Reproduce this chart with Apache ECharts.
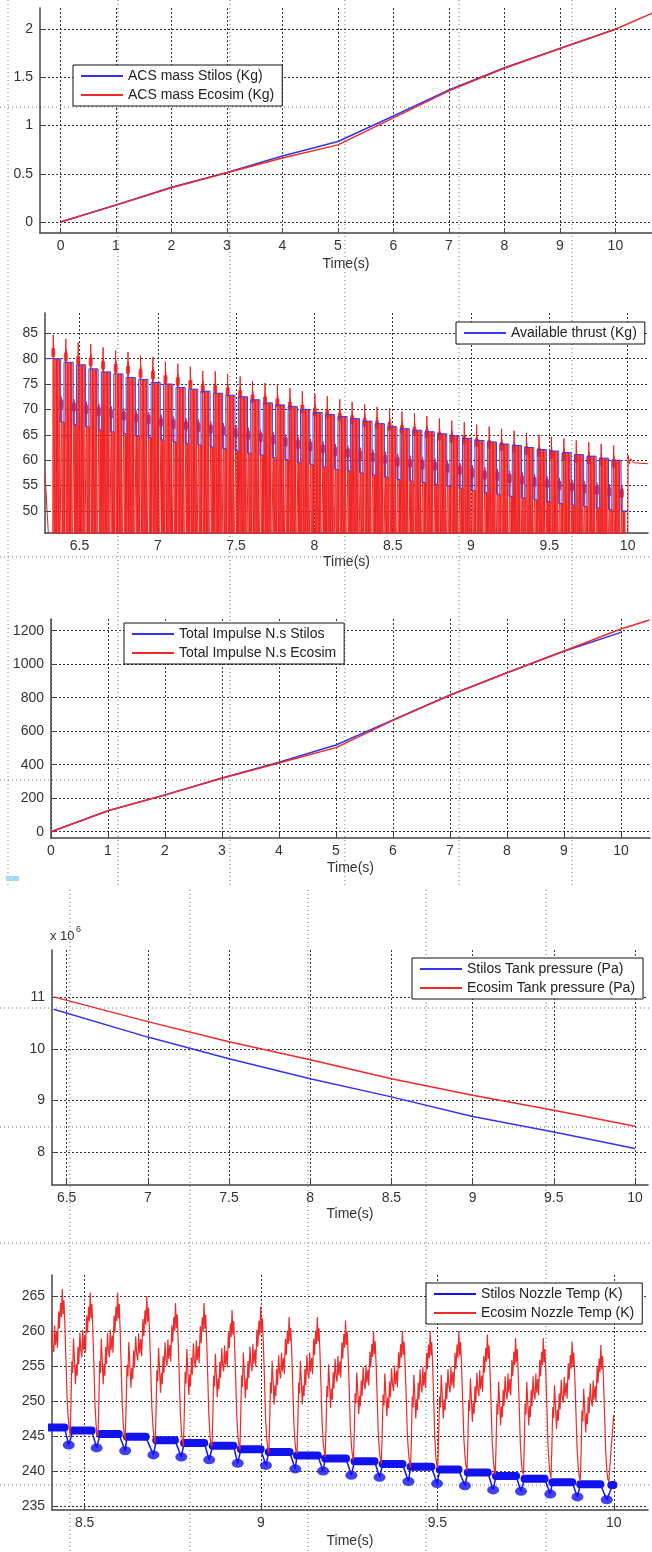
<!DOCTYPE html>
<html><head><meta charset="utf-8">
<script src="https://cdn.jsdelivr.net/npm/echarts@6/dist/echarts.min.js"></script>
<style>html,body{margin:0;padding:0;background:#fff}#c{width:652px;height:1552px}</style>
</head><body><div id="c"></div>
<script>
// ---------- Panel 1 : ACS mass ----------
const massTimeStilos = [0,1,2,3,4,5,6,7,8,9,10];
const massStilos     = [0,0.177,0.36,0.515,0.685,0.835,1.10,1.37,1.60,1.80,2.00];
const massTimeEcosim = [0,1,2,3,4,5,6,7,8,9,10,10.68];
const massEcosim     = [0,0.175,0.355,0.51,0.665,0.80,1.08,1.36,1.595,1.80,2.00,2.17];
const massXTicks = [0,1,2,3,4,5,6,7,8,9,10];
const massYTicks = [0,0.5,1,1.5,2];

// ---------- Panel 2 : Available thrust ----------
const thrustCycleTime = [6.333,6.413,6.492,6.572,6.651,6.731,6.810,6.890,6.969,7.049,7.128,7.208,7.287,7.367,7.446,7.526,7.605,7.685,7.764,7.844,7.923,8.003,8.082,8.162,8.241,8.321,8.400,8.480,8.559,8.639,8.718,8.798,8.877,8.957,9.036,9.116,9.195,9.275,9.354,9.434,9.513,9.593,9.672,9.752,9.831,9.911];
const thrustEcosimSpike = [84.7,83.9,83.2,82.9,82.2,81.6,81.3,80.6,80.3,79.4,79.0,78.4,77.6,77.5,77.0,76.5,75.6,75.2,74.8,74.2,73.6,73.0,72.6,72.0,71.5,71.0,70.5,70.2,69.6,69.2,68.7,68.2,67.8,67.5,67.0,66.6,66.2,65.8,65.4,65.0,64.6,64.3,63.9,63.6,63.2,62.9];
const thrustEcosimMid = [71.0,70.5,70.0,69.6,69.1,68.7,68.3,68.0,67.5,67.1,66.8,66.5,66.1,65.8,65.4,64.9,64.5,64.0,63.6,63.1,62.7,62.2,61.7,61.4,61.0,60.6,60.2,59.7,59.4,59.1,58.8,58.4,58.0,57.5,57.1,56.8,56.4,56.1,55.7,55.4,55.0,54.7,54.4,54.1,53.8,53.5];
const thrustStilosHigh = [80.0,79.3,78.8,78.0,77.4,77.0,76.3,75.9,75.3,75.0,74.3,74.0,73.6,73.2,72.8,72.5,71.9,71.3,70.9,70.6,70.0,69.4,69.0,68.6,68.2,67.7,67.2,66.6,66.2,65.9,65.6,65.2,64.8,64.3,63.9,63.6,63.2,62.9,62.5,62.1,61.8,61.5,61.1,60.8,60.4,60.0];
const thrustStilosLow = [67.5,67.0,66.6,66.0,65.6,65.2,64.8,64.5,64.0,63.6,63.3,63.0,62.6,62.3,61.9,61.4,61.0,60.5,60.1,59.6,59.2,58.7,58.2,57.9,57.5,57.1,56.7,56.2,55.9,55.6,55.3,54.9,54.5,54.0,53.6,53.3,52.9,52.6,52.2,51.9,51.5,51.2,50.9,50.6,50.3,50.0];
const thrustEcosimLead = [[6.28,57.5]];
const thrustEcosimTail = [[10.0,30],[10.003,61.0],[10.01,59.2],[10.02,60.3],[10.035,59.5],[10.13,59.3]];
const thrustStilosLead = [[6.28,80.0]];
const thrustStilosTail = [[10.0,50.0]];
const thrustXTicks = [6.5,7,7.5,8,8.5,9,9.5,10];
const thrustYTicks = [50,55,60,65,70,75,80,85];

// ---------- Panel 3 : Total impulse ----------
const impTimeStilos = [0,1,2,3,4,5,6,7,8,9,10];
const impStilos     = [0,125,220,321,415,518,668,816,949,1077,1190];
const impTimeEcosim = [0,1,2,3,4,5,6,7,8,9,10,10.5];
const impEcosim     = [0,125,219,319,410,502,665,815,949,1079,1210,1264];
const impXTicks = [0,1,2,3,4,5,6,7,8,9,10];
const impYTicks = [0,200,400,600,800,1000,1200];

// ---------- Panel 4 : Tank pressure (x 10^6 Pa) ----------
const presTime   = [6.42,7,7.5,8,8.5,9,9.5,10];
const presStilos = [10.77,10.23,9.81,9.42,9.07,8.69,8.39,8.07];
const presEcosim = [11.01,10.53,10.14,9.79,9.42,9.10,8.81,8.50];
const presXTicks = [6.5,7,7.5,8,8.5,9,9.5,10];
const presYTicks = [8,9,10,11];

// ---------- Panel 5 : Nozzle temperature ----------
const nozzleCycleStart = [8.379,8.459,8.538,8.615,8.700,8.780,8.861,8.940,9.022,9.102,9.182,9.262,9.341,9.424,9.501,9.584,9.664,9.744,9.822,9.905,9.986];
const nozzleEcosimTrough = [246,245,245,244.5,244,243.5,243.5,243,242.5,242.5,242,241.5,241,240.5,240.5,240,239.5,239.5,239,238.5,238.5];
const nozzleEcosimPeak = [266,265.5,265.5,265,264,264,263,263.5,262,262,261.5,260,260,260,260,259.5,259,259,258.5,258];
const nozzleCycleShape = [[0,0],[0.03,0.22],[0.06,0.52],[0.09,0.44],[0.12,0.68],[0.15,0.55],[0.19,0.36],[0.22,0.50],[0.25,0.42],[0.28,0.62],[0.31,0.50],[0.35,0.72],[0.38,0.60],[0.42,0.55],[0.45,0.74],[0.48,0.60],[0.52,0.70],[0.55,0.58],[0.59,0.84],[0.62,0.72],[0.66,0.90],[0.69,0.80],[0.72,1.00],[0.75,0.82],[0.78,0.92],[0.81,0.76],[0.85,0.50],[0.89,0.22],[0.93,0.08],[0.96,0.02]];
const nozzleEcosimTail = [[9.993,243.5],[10.0,248]];
const nozzleStilosPlateauStart = [8.400,8.467,8.544,8.620,8.703,8.782,8.863,8.943,9.022,9.102,9.182,9.265,9.345,9.424,9.507,9.586,9.666,9.747,9.826,9.905];
const nozzleStilosPlateauEnd   = [8.443,8.520,8.597,8.673,8.756,8.839,8.922,8.999,9.081,9.161,9.241,9.322,9.401,9.483,9.560,9.643,9.723,9.804,9.882,9.962];
const nozzleStilosPlateau = [246.2,245.8,245.3,244.9,244.4,244.0,243.6,243.1,242.7,242.2,241.8,241.4,241.0,240.6,240.2,239.8,239.3,238.9,238.4,238.1];
const nozzleStilosDipTime = [8.455,8.534,8.615,8.695,8.774,8.853,8.934,9.014,9.097,9.176,9.256,9.336,9.418,9.499,9.578,9.658,9.737,9.820,9.897,9.980];
const nozzleStilosDip = [243.7,243.3,242.9,242.3,242.0,241.6,241.1,240.8,240.3,240.0,239.4,239.1,238.5,238.2,237.9,237.3,237.1,236.7,236.3,235.9];
const nozzleStilosEnd = [[9.997,238.0]];
const nozzleXTicks = [8.5,9,9.5,10];
const nozzleYTicks = [235,240,245,250,255,260,265];

// ================= build =================
const F = 'Liberation Sans, Arial, sans-serif';
const BLUE = '#3434ee', RED = '#ee2a2a';
const zip = (a,b) => a.map((v,i)=>[v,b[i]]);

// thrust waveforms
const COMB_FLOOR = 30;
const thrustRed = thrustEcosimLead.slice();
const thrustBlue = thrustStilosLead.slice();
const thrustRedBlobs = [];
thrustCycleTime.forEach((t,k)=>{
  const P = thrustEcosimSpike[k], H = thrustStilosHigh[k], L = thrustStilosLow[k], M = thrustEcosimMid[k], B = COMB_FLOOR;
  thrustRed.push([t-0.004,B],[t-0.002,P-4],[t-0.001,P-2.5],[t,P],[t+0.001,P-3.5],[t+0.002,P-2],[t+0.004,B]);
  [0.011,0.020,0.029,0.038].forEach(d=>thrustRed.push([t+d-0.0012,B],[t+d,H],[t+d+0.0012,B]));
  thrustRed.push([t+0.049,B],[t+0.051,M-1.5],[t+0.052,M+1.5],[t+0.053,M-1],[t+0.054,M+1],[t+0.056,B]);
  [0.063,0.071].forEach(d=>thrustRed.push([t+d-0.0012,B],[t+d,L],[t+d+0.0012,B]));
  thrustBlue.push([t-0.0115,H],[t+0.047,H],[t+0.047,L],[t+0.068,L]);
  thrustRedBlobs.push([t,P-3.5],[t+0.052,M]);
});
thrustEcosimTail.forEach(p=>thrustRed.push(p));
thrustStilosTail.forEach(p=>thrustBlue.push(p));

// nozzle waveforms
const nozzleRed = [];
for (let k=0;k<nozzleEcosimPeak.length;k++){
  const t0=nozzleCycleStart[k], t1=nozzleCycleStart[k+1], T=nozzleEcosimTrough[k], P=nozzleEcosimPeak[k];
  nozzleCycleShape.forEach(([f,v])=>nozzleRed.push([t0+f*(t1-t0), T+v*(P-T)]));
}
nozzleRed.push([nozzleCycleStart[nozzleCycleStart.length-1], nozzleEcosimTrough[nozzleEcosimTrough.length-1]]);
nozzleEcosimTail.forEach(p=>nozzleRed.push(p));
const nozzleBlueThin = [], nozzleBlueThick = [];
nozzleStilosPlateau.forEach((H,k)=>{
  const s=nozzleStilosPlateauStart[k], e=nozzleStilosPlateauEnd[k];
  nozzleBlueThin.push([s,H],[e,H],[nozzleStilosDipTime[k],nozzleStilosDip[k]]);
  nozzleBlueThick.push([s,H],[e,H],[e,null]);
});
nozzleStilosEnd.forEach(p=>{nozzleBlueThin.push(p); nozzleBlueThick.push([p[0]-0.004,p[1]],[p[0]+0.002,p[1]]);});
const nozzleBlueDips = zip(nozzleStilosDipTime, nozzleStilosDip);

// axes helpers
function xAx(i,min,max,ticks,gap){
  return {type:'value',gridIndex:i,min,max,name:'Time(s)',nameLocation:'middle',nameGap:gap,
    nameTextStyle:{fontFamily:F,fontSize:14,color:'#333'},
    axisLine:{onZero:false,lineStyle:{color:'#444',width:1.5}},
    axisTick:{inside:true,length:5,customValues:ticks,lineStyle:{color:'#444'}},
    axisLabel:{customValues:ticks,margin:6,fontFamily:F,fontSize:14,color:'#333',formatter:v=>String(v)},
    splitLine:{show:true,lineStyle:{color:'#333',type:[2,2],width:1}}};
}
function yAx(i,min,max,ticks){
  return {type:'value',gridIndex:i,min,max,
    axisLine:{show:true,onZero:false,lineStyle:{color:'#444',width:1.5}},
    axisTick:{show:true,inside:true,length:5,customValues:ticks,lineStyle:{color:'#444'}},
    axisLabel:{customValues:ticks,margin:7,fontFamily:F,fontSize:14,color:'#333',formatter:v=>String(v)},
    splitLine:{show:true,lineStyle:{color:'#333',type:[2,2],width:1}}};
}
function leg(left,top,names){
  return {left,top,orient:'vertical',data:names,backgroundColor:'#fff',borderColor:'#111',borderWidth:1,
    padding:[4,8,4,8],itemGap:5,itemWidth:42,itemHeight:2,icon:'rect',selectedMode:false,
    textStyle:{fontFamily:F,fontSize:14,color:'#222'}};
}
function ln(name,i,data,color,w,extra){
  return Object.assign({name,type:'line',xAxisIndex:i,yAxisIndex:i,data,showSymbol:false,symbol:'none',
    lineStyle:{color,width:w},itemStyle:{color},animation:false},extra||{});
}

// faint overlay dotted lattice of the scanned page
const over = [];
const od = {stroke:'#777',lineWidth:1,lineDash:[1,3]};
[8,118,230,345,459,572].forEach(x=>over.push({type:'line',z:0,shape:{x1:x,y1:0,x2:x,y2:885},style:od}));
[70,190,308,426,546].forEach(x=>over.push({type:'line',z:0,shape:{x1:x,y1:890,x2:x,y2:1552},style:od}));
[107,557,780,1008,1127,1243,1485].forEach(y=>over.push({type:'line',z:0,shape:{x1:0,y1:y,x2:652,y2:y},style:od}));
over.push({type:'rect',z:5,shape:{x:6,y:876,width:13,height:5},style:{fill:'#a8d8f8'}});
over.push({type:'text',z:5,left:50,top:930,style:{text:'x 10',font:'13px '+F,fill:'#333'}});
over.push({type:'text',z:5,left:76,top:925,style:{text:'6',font:'9px '+F,fill:'#333'}});

const option = {
  animation:false,
  backgroundColor:'#fff',
  grid:[
    {left:40,top:8,width:612,height:225},
    {left:45,top:313,width:603,height:220},
    {left:51,top:619,width:599,height:219},
    {left:52,top:950,width:596,height:235},
    {left:52,top:1275,width:596,height:235}
  ],
  xAxis:[
    xAx(0,-0.37,10.66,massXTicks,24),
    xAx(1,6.28,10.13,thrustXTicks,22),
    xAx(2,0,10.51,impXTicks,23),
    xAx(3,6.41,10.08,presXTicks,22),
    xAx(4,8.4075,10.097,nozzleXTicks,24)
  ],
  yAxis:[
    yAx(0,-0.114,2.22,massYTicks),
    yAx(1,45.66,89.0,thrustYTicks),
    yAx(2,-37.6,1270,impYTicks),
    yAx(3,7.36,11.92,presYTicks),
    yAx(4,234.43,268,nozzleYTicks)
  ],
  legend:[
    leg(73,65,['ACS mass Stilos (Kg)','ACS mass Ecosim (Kg)']),
    leg(456,322,['Available thrust (Kg)']),
    leg(124,623,['Total Impulse N.s Stilos','Total Impulse N.s Ecosim']),
    leg(412,958,['Stilos Tank pressure (Pa)','Ecosim Tank pressure (Pa)']),
    leg(426,1283,['Stilos Nozzle Temp (K)','Ecosim Nozzle Temp (K)'])
  ],
  graphic:{elements:over},
  series:[
    ln('ACS mass Stilos (Kg)',0,zip(massTimeStilos,massStilos),BLUE,1.5),
    ln('ACS mass Ecosim (Kg)',0,zip(massTimeEcosim,massEcosim),RED,1.5),
    ln('Available thrust (Kg) Ecosim',1,thrustRed,'#f02020',1),
    ln('Available thrust (Kg)',1,thrustBlue,'#3a3af0',1),
    {name:'Ecosim thrust blobs',type:'scatter',xAxisIndex:1,yAxisIndex:1,data:thrustRedBlobs,symbol:'roundRect',symbolSize:[4,9],itemStyle:{color:'#ee1010'},animation:false},
    ln('Total Impulse N.s Stilos',2,zip(impTimeStilos,impStilos),BLUE,1.5),
    ln('Total Impulse N.s Ecosim',2,zip(impTimeEcosim,impEcosim),RED,1.5),
    ln('Stilos Tank pressure (Pa)',3,zip(presTime,presStilos),BLUE,1.5),
    ln('Ecosim Tank pressure (Pa)',3,zip(presTime,presEcosim),RED,1.5),
    ln('Stilos Nozzle Temp (K)',4,nozzleBlueThin,'#1212f0',1.5),
    ln('Stilos plateau',4,nozzleBlueThick,'#1212f0',8,{connectNulls:false,lineStyle:{color:'#1212f0',width:8,cap:'round'}}),
    {name:'Stilos dip',type:'scatter',xAxisIndex:4,yAxisIndex:4,data:nozzleBlueDips,symbol:'circle',symbolSize:[12,9],itemStyle:{color:'#1212f0'},animation:false},
    ln('Ecosim Nozzle Temp (K)',4,nozzleRed,RED,1.2)
  ]
};
const chart = echarts.init(document.getElementById('c'),null,{renderer:'canvas'});
chart.setOption(option);
</script></body></html>
